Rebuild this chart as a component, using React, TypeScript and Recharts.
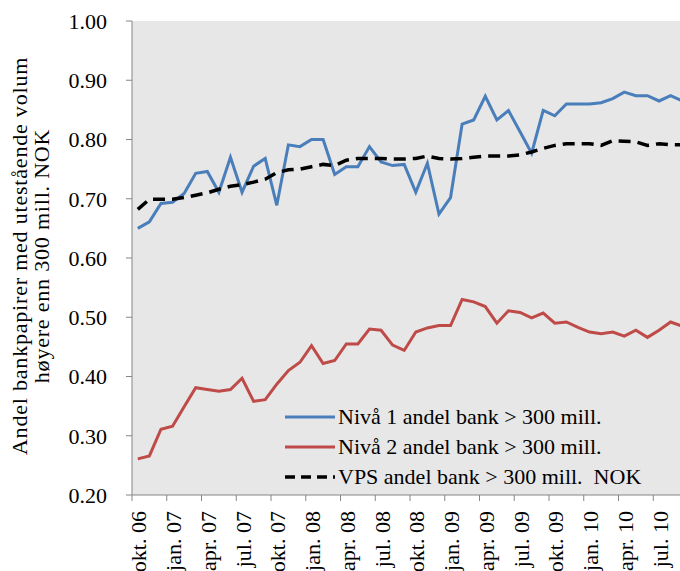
import { LineChart, Line, XAxis, YAxis, CartesianGrid } from "recharts";

const months = [
	"okt. 06", "nov. 06", "des. 06",
	"jan. 07", "feb. 07", "mar. 07", "apr. 07", "mai. 07", "jun. 07",
	"jul. 07", "aug. 07", "sep. 07", "okt. 07", "nov. 07", "des. 07",
	"jan. 08", "feb. 08", "mar. 08", "apr. 08", "mai. 08", "jun. 08",
	"jul. 08", "aug. 08", "sep. 08", "okt. 08", "nov. 08", "des. 08",
	"jan. 09", "feb. 09", "mar. 09", "apr. 09", "mai. 09", "jun. 09",
	"jul. 09", "aug. 09", "sep. 09", "okt. 09", "nov. 09", "des. 09",
	"jan. 10", "feb. 10", "mar. 10", "apr. 10", "mai. 10", "jun. 10",
	"jul. 10", "aug. 10", "sep. 10",
];

const niva1 = [
	0.65, 0.661, 0.692, 0.694, 0.709, 0.743, 0.746, 0.711, 0.77, 0.711, 0.755, 0.768,
	0.689, 0.791, 0.788, 0.8, 0.8, 0.741, 0.754, 0.754, 0.788, 0.762, 0.756, 0.758,
	0.711, 0.76, 0.674, 0.702, 0.826, 0.833, 0.873, 0.833, 0.849, 0.813, 0.777, 0.849,
	0.84, 0.86, 0.86, 0.86, 0.862, 0.869, 0.88, 0.874, 0.874, 0.865, 0.874, 0.865,
];

const niva2 = [
	0.261, 0.266, 0.311, 0.316, 0.349, 0.381, 0.378, 0.375, 0.378, 0.397, 0.358, 0.361,
	0.387, 0.41, 0.424, 0.452, 0.422, 0.427, 0.455, 0.455, 0.48, 0.478, 0.453, 0.444,
	0.475, 0.482, 0.486, 0.486, 0.53, 0.526, 0.518, 0.49, 0.511, 0.508, 0.499, 0.507,
	0.49, 0.492, 0.483, 0.475, 0.472, 0.475, 0.468, 0.478, 0.466, 0.478, 0.492, 0.485,
];

const vps = [
	0.682, 0.699, 0.699, 0.699, 0.702, 0.706, 0.71, 0.716, 0.721, 0.724, 0.728, 0.733,
	0.744, 0.749, 0.75, 0.754, 0.758, 0.756, 0.765, 0.768, 0.768, 0.768, 0.767, 0.767,
	0.768, 0.772, 0.768, 0.767, 0.768, 0.77, 0.772, 0.772, 0.772, 0.774, 0.779, 0.785,
	0.79, 0.793, 0.793, 0.793, 0.79, 0.798, 0.797, 0.796, 0.79, 0.793, 0.791, 0.791,
];

const yTicks = [0.2, 0.3, 0.4, 0.5, 0.6, 0.7, 0.8, 0.9, 1.0];

const data = months.map((m, i) => ({ month: m, n1: niva1[i], n2: niva2[i], vps: vps[i] }));

const FONT = "'Liberation Serif', 'Times New Roman', serif";
const AXIS = "#868686";
const BLUE = "#4a7ebb";
const RED = "#be4b48";

// chart geometry
const W = 694;
const LEFT = 132;
const RIGHT = 6;
const BAND = (W - LEFT - RIGHT) / months.length;

function XTick(props: any) {
	const { x, y, payload } = props;
	const tx = x - BAND / 2;
	return (
		<g>
			<line x1={tx} x2={tx} y1={y} y2={y + 6} stroke={AXIS} strokeWidth={1} />
			<text
				x={x + 1}
				y={y + 16}
				transform={`rotate(-90 ${x + 1} ${y + 16})`}
				textAnchor="end"
				dominantBaseline="central"
				fontFamily={FONT}
				fontSize={22}
				fill="#000"
			>
				{payload.value}
			</text>
		</g>
	);
}

function YLabel() {
	return (
		<text
			x={27}
			y={256}
			transform="rotate(-90 27 256)"
			textAnchor="middle"
			fontFamily={FONT}
			fontSize={22}
			letterSpacing={0.8}
			fill="#000"
		>
			<tspan x={27} dy={0}>Andel bankpapirer med utestående volum</tspan>
			<tspan x={27} dy={22}>høyere enn  300 mill. NOK</tspan>
		</text>
	);
}

const legendItems = [
	{ label: "Nivå 1 andel bank > 300 mill.", color: BLUE, dash: undefined, width: 3 },
	{ label: "Nivå 2 andel bank > 300 mill.", color: RED, dash: undefined, width: 3 },
	{ label: "VPS andel bank > 300 mill.  NOK", color: "#000", dash: "10 6", width: 3.5 },
];

function LegendBox() {
	return (
		<div
			style={{
				position: "absolute",
				left: 284,
				top: 402,
				fontFamily: FONT,
				fontSize: 22,
				color: "#000",
				whiteSpace: "pre",
			}}
		>
			{legendItems.map((it) => (
				<div key={it.label} style={{ display: "flex", alignItems: "center", height: 30 }}>
					<svg width={52} height={10} style={{ marginRight: 2 }}>
						<line x1={1} x2={51} y1={5} y2={5} stroke={it.color} strokeWidth={it.width} strokeDasharray={it.dash} />
					</svg>
					<span>{it.label}</span>
				</div>
			))}
		</div>
	);
}

export default function App() {
	return (
		<div style={{ position: "absolute", left: 0, top: 0, width: 680, height: 571, overflow: "hidden", background: "#fff" }}>
			<LineChart width={W} height={571} data={data} margin={{ top: 21, right: RIGHT, bottom: 6, left: 0 }}>
				<CartesianGrid horizontal={false} vertical={false} fill="#e7e7e7" stroke="none" />
				<XAxis
					dataKey="month"
					interval={2}
					padding={{ left: BAND / 2, right: BAND / 2 }}
					height={70}
					tickSize={0}
					tickMargin={0}
					tickLine={false}
					axisLine={{ stroke: AXIS }}
					tick={<XTick />}
				/>
				<YAxis
					width={LEFT}
					domain={[0.2, 1]}
					ticks={yTicks}
					type="number"
					allowDataOverflow
					tickFormatter={(v: number) => v.toFixed(2)}
					tickSize={6}
					tickMargin={19}
					tickLine={{ stroke: AXIS }}
					axisLine={{ stroke: AXIS }}
					tick={{ fontFamily: FONT, fontSize: 22, fill: "#000" }}
					label={<YLabel />}
				/>
				<Line type="linear" dataKey="n1" stroke={BLUE} strokeWidth={3} dot={false} isAnimationActive={false} />
				<Line type="linear" dataKey="n2" stroke={RED} strokeWidth={3} dot={false} isAnimationActive={false} />
				<Line
					type="linear"
					dataKey="vps"
					stroke="#000"
					strokeWidth={3.5}
					strokeDasharray="12 7"
					dot={false}
					isAnimationActive={false}
				/>
			</LineChart>
			<LegendBox />
		</div>
	);
}
